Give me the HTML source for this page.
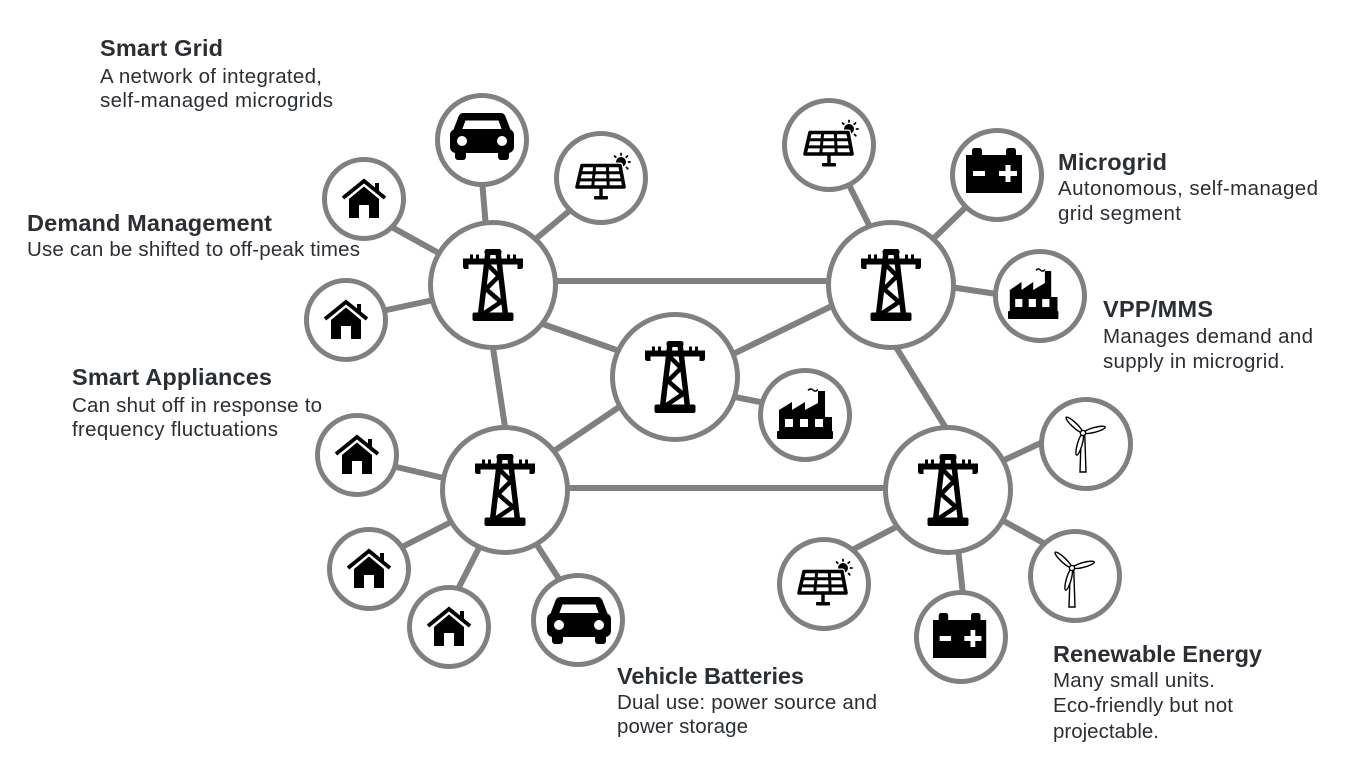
<!DOCTYPE html>
<html><head><meta charset="utf-8"><style>
html,body{margin:0;padding:0;background:#fff;}
svg{display:block;}
.t{font-family:"Liberation Sans",Arial,sans-serif;font-weight:bold;font-size:23.5px;fill:#2b2f34;}
.b{font-family:"Liberation Sans",Arial,sans-serif;font-size:20.5px;fill:#2b2f34;}
</style></head><body>
<svg width="1345" height="769" viewBox="0 0 1345 769" xmlns="http://www.w3.org/2000/svg">
<rect width="1345" height="769" fill="#fff"/>
<!-- connectors -->
<g stroke="#808080" stroke-width="6" fill="none">
<line x1="493" y1="281" x2="891" y2="281"/>
<line x1="505" y1="488" x2="948" y2="488"/>
<line x1="491" y1="335" x2="507" y2="440"/>
<line x1="540" y1="323" x2="625" y2="353"/>
<line x1="725" y1="358" x2="840" y2="302"/>
<line x1="545" y1="457" x2="628" y2="401"/>
<line x1="725" y1="395" x2="770" y2="404"/>
<line x1="891" y1="339" x2="949" y2="433"/>
<line x1="482" y1="180" x2="486" y2="228"/>
<line x1="532" y1="242" x2="574" y2="207"/>
<line x1="388" y1="225" x2="444" y2="256"/>
<line x1="382" y1="311" x2="438" y2="299"/>
<line x1="847" y1="181" x2="871" y2="229"/>
<line x1="932" y1="240" x2="970" y2="203"/>
<line x1="950" y1="287" x2="997" y2="294"/>
<line x1="392" y1="466" x2="448" y2="479"/>
<line x1="400" y1="548" x2="455" y2="520"/>
<line x1="457" y1="591" x2="481" y2="544"/>
<line x1="535" y1="542" x2="561" y2="582"/>
<line x1="1000" y1="462" x2="1045" y2="441"/>
<line x1="1000" y1="519" x2="1047" y2="545"/>
<line x1="958" y1="548" x2="963" y2="595"/>
<line x1="852" y1="550" x2="902" y2="524"/>
</g>
<!-- circles -->
<g stroke="#808080" stroke-width="5" fill="#fff">
<circle cx="493" cy="285" r="62.5"/>
<circle cx="891" cy="285" r="62.5"/>
<circle cx="675" cy="377" r="62.5"/>
<circle cx="505" cy="490" r="62.5"/>
<circle cx="948" cy="490" r="62.5"/>
<circle cx="482" cy="140" r="44.5"/>
<circle cx="601" cy="178" r="44.5"/>
<circle cx="364" cy="199" r="39.5"/>
<circle cx="346" cy="320" r="39.5"/>
<circle cx="829" cy="145" r="44.5"/>
<circle cx="997" cy="175" r="44.5"/>
<circle cx="1040" cy="296" r="44.5"/>
<circle cx="805" cy="415" r="44.5"/>
<circle cx="357" cy="455" r="39.5"/>
<circle cx="369" cy="569" r="39.5"/>
<circle cx="449" cy="627" r="39.5"/>
<circle cx="578" cy="620" r="44.5"/>
<circle cx="1086" cy="444" r="44.5"/>
<circle cx="1075" cy="576" r="44.5"/>
<circle cx="961" cy="637" r="44.5"/>
<circle cx="824" cy="584" r="44.5"/>
</g>

<!-- towers -->
<g transform="translate(463,249)"><rect x="21.5" y="0" width="17" height="6" rx="2.5"/><path d="M25 3 L17.5 66 M35 3 L42.5 66" stroke="#000" stroke-width="5.5" fill="none"/><path d="M25 16 L36 27 L23 40 L38 53 L20 65" stroke="#000" stroke-width="4.5" fill="none" stroke-linejoin="round"/><path d="M0 9.5 H60 V17.5 Q60 20 57.5 20 H54.5 V15.5 H5.5 V20 H2.5 Q0 20 0 17.5Z"/><rect x="7" y="5.5" width="3" height="5"/><rect x="13" y="5.5" width="3" height="5"/><rect x="44" y="5.5" width="3" height="5"/><rect x="50" y="5.5" width="3" height="5"/><rect x="9.5" y="63.5" width="41" height="8.5" rx="2"/></g>
<g transform="translate(861,249)"><rect x="21.5" y="0" width="17" height="6" rx="2.5"/><path d="M25 3 L17.5 66 M35 3 L42.5 66" stroke="#000" stroke-width="5.5" fill="none"/><path d="M25 16 L36 27 L23 40 L38 53 L20 65" stroke="#000" stroke-width="4.5" fill="none" stroke-linejoin="round"/><path d="M0 9.5 H60 V17.5 Q60 20 57.5 20 H54.5 V15.5 H5.5 V20 H2.5 Q0 20 0 17.5Z"/><rect x="7" y="5.5" width="3" height="5"/><rect x="13" y="5.5" width="3" height="5"/><rect x="44" y="5.5" width="3" height="5"/><rect x="50" y="5.5" width="3" height="5"/><rect x="9.5" y="63.5" width="41" height="8.5" rx="2"/></g>
<g transform="translate(645,341)"><rect x="21.5" y="0" width="17" height="6" rx="2.5"/><path d="M25 3 L17.5 66 M35 3 L42.5 66" stroke="#000" stroke-width="5.5" fill="none"/><path d="M25 16 L36 27 L23 40 L38 53 L20 65" stroke="#000" stroke-width="4.5" fill="none" stroke-linejoin="round"/><path d="M0 9.5 H60 V17.5 Q60 20 57.5 20 H54.5 V15.5 H5.5 V20 H2.5 Q0 20 0 17.5Z"/><rect x="7" y="5.5" width="3" height="5"/><rect x="13" y="5.5" width="3" height="5"/><rect x="44" y="5.5" width="3" height="5"/><rect x="50" y="5.5" width="3" height="5"/><rect x="9.5" y="63.5" width="41" height="8.5" rx="2"/></g>
<g transform="translate(475,454)"><rect x="21.5" y="0" width="17" height="6" rx="2.5"/><path d="M25 3 L17.5 66 M35 3 L42.5 66" stroke="#000" stroke-width="5.5" fill="none"/><path d="M25 16 L36 27 L23 40 L38 53 L20 65" stroke="#000" stroke-width="4.5" fill="none" stroke-linejoin="round"/><path d="M0 9.5 H60 V17.5 Q60 20 57.5 20 H54.5 V15.5 H5.5 V20 H2.5 Q0 20 0 17.5Z"/><rect x="7" y="5.5" width="3" height="5"/><rect x="13" y="5.5" width="3" height="5"/><rect x="44" y="5.5" width="3" height="5"/><rect x="50" y="5.5" width="3" height="5"/><rect x="9.5" y="63.5" width="41" height="8.5" rx="2"/></g>
<g transform="translate(918,454)"><rect x="21.5" y="0" width="17" height="6" rx="2.5"/><path d="M25 3 L17.5 66 M35 3 L42.5 66" stroke="#000" stroke-width="5.5" fill="none"/><path d="M25 16 L36 27 L23 40 L38 53 L20 65" stroke="#000" stroke-width="4.5" fill="none" stroke-linejoin="round"/><path d="M0 9.5 H60 V17.5 Q60 20 57.5 20 H54.5 V15.5 H5.5 V20 H2.5 Q0 20 0 17.5Z"/><rect x="7" y="5.5" width="3" height="5"/><rect x="13" y="5.5" width="3" height="5"/><rect x="44" y="5.5" width="3" height="5"/><rect x="50" y="5.5" width="3" height="5"/><rect x="9.5" y="63.5" width="41" height="8.5" rx="2"/></g>

<!-- houses -->
<g transform="translate(341,178)"><path d="M2 20 L23 3 L44 20" fill="none" stroke="#000" stroke-width="3.8"/><rect x="34" y="5" width="4" height="8"/><path d="M8 40 V21 L23 8.5 L38 21 V40 H28 V27 H18 V40Z"/></g>
<g transform="translate(323,299)"><path d="M2 20 L23 3 L44 20" fill="none" stroke="#000" stroke-width="3.8"/><rect x="34" y="5" width="4" height="8"/><path d="M8 40 V21 L23 8.5 L38 21 V40 H28 V27 H18 V40Z"/></g>
<g transform="translate(334,434)"><path d="M2 20 L23 3 L44 20" fill="none" stroke="#000" stroke-width="3.8"/><rect x="34" y="5" width="4" height="8"/><path d="M8 40 V21 L23 8.5 L38 21 V40 H28 V27 H18 V40Z"/></g>
<g transform="translate(346,548)"><path d="M2 20 L23 3 L44 20" fill="none" stroke="#000" stroke-width="3.8"/><rect x="34" y="5" width="4" height="8"/><path d="M8 40 V21 L23 8.5 L38 21 V40 H28 V27 H18 V40Z"/></g>
<g transform="translate(426,606)"><path d="M2 20 L23 3 L44 20" fill="none" stroke="#000" stroke-width="3.8"/><rect x="34" y="5" width="4" height="8"/><path d="M8 40 V21 L23 8.5 L38 21 V40 H28 V27 H18 V40Z"/></g>

<!-- cars -->
<g transform="translate(450,113)"><path d="M13 0 H51 Q54 0 55.5 3.5 L61 18 H3 L8.5 3.5 Q10 0 13 0Z"/><path d="M15.5 7.5 H48.5 L52 17 H12Z" fill="#fff"/><rect x="0" y="16" width="64" height="24" rx="6"/><circle cx="12" cy="28" r="5" fill="#fff"/><circle cx="52" cy="28" r="5" fill="#fff"/><rect x="5" y="36" width="11" height="11" rx="3"/><rect x="48" y="36" width="11" height="11" rx="3"/></g>
<g transform="translate(547,597)"><path d="M13 0 H51 Q54 0 55.5 3.5 L61 18 H3 L8.5 3.5 Q10 0 13 0Z"/><path d="M15.5 7.5 H48.5 L52 17 H12Z" fill="#fff"/><rect x="0" y="16" width="64" height="24" rx="6"/><circle cx="12" cy="28" r="5" fill="#fff"/><circle cx="52" cy="28" r="5" fill="#fff"/><rect x="5" y="36" width="11" height="11" rx="3"/><rect x="48" y="36" width="11" height="11" rx="3"/></g>

<!-- solar panels -->
<g transform="translate(575,153)"><g stroke="#000" stroke-width="1.8" stroke-linecap="round"><line x1="46" y1="0.5" x2="46" y2="2"/><line x1="39.5" y1="3" x2="40.8" y2="4.2"/><line x1="52.5" y1="3" x2="51.2" y2="4.2"/><line x1="53.5" y1="9" x2="55" y2="9"/><line x1="51.5" y1="14.5" x2="52.8" y2="15.8"/></g><circle cx="46" cy="9" r="5"/><polygon points="7,12.5 45,12.5 49,34 2,34" fill="#fff" stroke="#fff" stroke-width="6" stroke-linejoin="round"/><polygon points="7,12.5 45,12.5 49,34 2,34" fill="#fff" stroke="#000" stroke-width="3.6" stroke-linejoin="round"/><path d="M5.3 19.7 H46.3 M3.7 26.9 H47.7 M19.7 12.5 L17.7 34 M32.3 12.5 L33.3 34" stroke="#000" stroke-width="3"/><rect x="24.3" y="34" width="3.4" height="11"/><rect x="19" y="43" width="14" height="3.5" rx="1"/></g>
<g transform="translate(803,120)"><g stroke="#000" stroke-width="1.8" stroke-linecap="round"><line x1="46" y1="0.5" x2="46" y2="2"/><line x1="39.5" y1="3" x2="40.8" y2="4.2"/><line x1="52.5" y1="3" x2="51.2" y2="4.2"/><line x1="53.5" y1="9" x2="55" y2="9"/><line x1="51.5" y1="14.5" x2="52.8" y2="15.8"/></g><circle cx="46" cy="9" r="5"/><polygon points="7,12.5 45,12.5 49,34 2,34" fill="#fff" stroke="#fff" stroke-width="6" stroke-linejoin="round"/><polygon points="7,12.5 45,12.5 49,34 2,34" fill="#fff" stroke="#000" stroke-width="3.6" stroke-linejoin="round"/><path d="M5.3 19.7 H46.3 M3.7 26.9 H47.7 M19.7 12.5 L17.7 34 M32.3 12.5 L33.3 34" stroke="#000" stroke-width="3"/><rect x="24.3" y="34" width="3.4" height="11"/><rect x="19" y="43" width="14" height="3.5" rx="1"/></g>
<g transform="translate(797,559)"><g stroke="#000" stroke-width="1.8" stroke-linecap="round"><line x1="46" y1="0.5" x2="46" y2="2"/><line x1="39.5" y1="3" x2="40.8" y2="4.2"/><line x1="52.5" y1="3" x2="51.2" y2="4.2"/><line x1="53.5" y1="9" x2="55" y2="9"/><line x1="51.5" y1="14.5" x2="52.8" y2="15.8"/></g><circle cx="46" cy="9" r="5"/><polygon points="7,12.5 45,12.5 49,34 2,34" fill="#fff" stroke="#fff" stroke-width="6" stroke-linejoin="round"/><polygon points="7,12.5 45,12.5 49,34 2,34" fill="#fff" stroke="#000" stroke-width="3.6" stroke-linejoin="round"/><path d="M5.3 19.7 H46.3 M3.7 26.9 H47.7 M19.7 12.5 L17.7 34 M32.3 12.5 L33.3 34" stroke="#000" stroke-width="3"/><rect x="24.3" y="34" width="3.4" height="11"/><rect x="19" y="43" width="14" height="3.5" rx="1"/></g>

<!-- batteries -->
<g transform="translate(966,148)"><rect x="6" y="0" width="10" height="10" rx="2.5"/><rect x="40" y="0" width="10" height="10" rx="2.5"/><rect x="0" y="7" width="56" height="38"/><rect x="7" y="23" width="12" height="5" fill="#fff"/><rect x="33" y="23" width="18" height="5" fill="#fff"/><rect x="39.5" y="17" width="5" height="17" fill="#fff"/></g>
<g transform="translate(933,613) scale(0.95,1)"><rect x="6" y="0" width="10" height="10" rx="2.5"/><rect x="40" y="0" width="10" height="10" rx="2.5"/><rect x="0" y="7" width="56" height="38"/><rect x="7" y="23" width="12" height="5" fill="#fff"/><rect x="33" y="23" width="18" height="5" fill="#fff"/><rect x="39.5" y="17" width="5" height="17" fill="#fff"/></g>

<!-- factories -->
<g transform="translate(1008,267) scale(0.9,1)"><path d="M31 3.5 q2.5 -3 5 -0.5 t5 -0.5" fill="none" stroke="#000" stroke-width="1.4"/><path d="M2 46 V23 L15 15 V23 L28 15 V23 L41 16 V4 H48 V30 H55 V46Z"/><rect x="0" y="44" width="56" height="8" rx="1"/><rect x="8" y="32" width="8" height="8" fill="#fff"/><rect x="23" y="32" width="8" height="8" fill="#fff"/><rect x="38" y="32" width="8" height="8" fill="#fff"/></g>
<g transform="translate(777,387)"><path d="M31 3.5 q2.5 -3 5 -0.5 t5 -0.5" fill="none" stroke="#000" stroke-width="1.4"/><path d="M2 46 V23 L15 15 V23 L28 15 V23 L41 16 V4 H48 V30 H55 V46Z"/><rect x="0" y="44" width="56" height="8" rx="1"/><rect x="8" y="32" width="8" height="8" fill="#fff"/><rect x="23" y="32" width="8" height="8" fill="#fff"/><rect x="38" y="32" width="8" height="8" fill="#fff"/></g>

<!-- wind turbines -->
<g transform="translate(1083,433)" fill="#fff" stroke="#000" stroke-width="1.4"><path d="M-1.8 3 L1.8 3 L3 39 L-3 39Z"/><ellipse cx="12" cy="0" rx="11" ry="2.4" transform="rotate(-137)"/><ellipse cx="12" cy="0" rx="11" ry="2.4" transform="rotate(-15)"/><ellipse cx="12" cy="0" rx="11" ry="2.4" transform="rotate(106)"/><circle r="2.6"/></g>
<g transform="translate(1072,568)" fill="#fff" stroke="#000" stroke-width="1.4"><path d="M-1.8 3 L1.8 3 L3 39 L-3 39Z"/><ellipse cx="12" cy="0" rx="11" ry="2.4" transform="rotate(-137)"/><ellipse cx="12" cy="0" rx="11" ry="2.4" transform="rotate(-15)"/><ellipse cx="12" cy="0" rx="11" ry="2.4" transform="rotate(106)"/><circle r="2.6"/></g>

<!-- text -->
<text class="t" x="100" y="56" textLength="123" lengthAdjust="spacing">Smart Grid</text>
<text class="b" x="100" y="83" textLength="222" lengthAdjust="spacing">A network of integrated,</text>
<text class="b" x="100" y="107" textLength="233" lengthAdjust="spacing">self-managed microgrids</text>

<text class="t" x="27" y="231" textLength="245" lengthAdjust="spacing">Demand Management</text>
<text class="b" x="27" y="256" textLength="333" lengthAdjust="spacing">Use can be shifted to off-peak times</text>

<text class="t" x="72" y="385" textLength="200" lengthAdjust="spacing">Smart Appliances</text>
<text class="b" x="72" y="412" textLength="250" lengthAdjust="spacing">Can shut off in response to</text>
<text class="b" x="72" y="436" textLength="206" lengthAdjust="spacing">frequency fluctuations</text>

<text class="t" x="1058" y="170" textLength="109" lengthAdjust="spacing">Microgrid</text>
<text class="b" x="1058" y="195" textLength="260" lengthAdjust="spacing">Autonomous, self-managed</text>
<text class="b" x="1058" y="220" textLength="123" lengthAdjust="spacing">grid segment</text>

<text class="t" x="1103" y="317" textLength="110" lengthAdjust="spacing">VPP/MMS</text>
<text class="b" x="1103" y="343" textLength="210" lengthAdjust="spacing">Manages demand and</text>
<text class="b" x="1103" y="368" textLength="182" lengthAdjust="spacing">supply in microgrid.</text>

<text class="t" x="617" y="684" textLength="187" lengthAdjust="spacing">Vehicle Batteries</text>
<text class="b" x="617" y="709" textLength="260" lengthAdjust="spacing">Dual use: power source and</text>
<text class="b" x="617" y="733" textLength="131" lengthAdjust="spacing">power storage</text>

<text class="t" x="1053" y="662" textLength="209" lengthAdjust="spacing">Renewable Energy</text>
<text class="b" x="1053" y="687" textLength="162" lengthAdjust="spacing">Many small units.</text>
<text class="b" x="1053" y="712" textLength="180" lengthAdjust="spacing">Eco-friendly but not</text>
<text class="b" x="1053" y="738" textLength="106" lengthAdjust="spacing">projectable.</text>
</svg>
</body></html>
